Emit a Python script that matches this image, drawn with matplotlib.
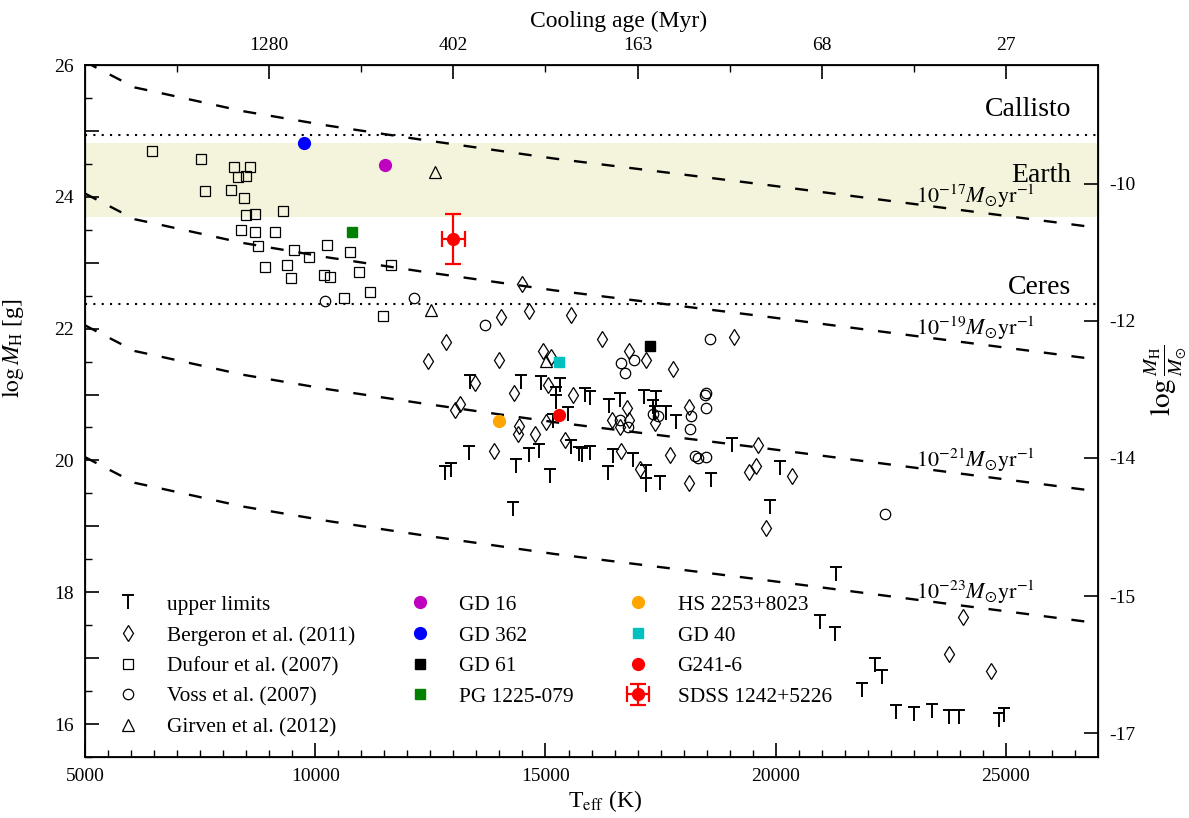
import numpy as np
import matplotlib
matplotlib.use('Agg')
import matplotlib.pyplot as plt
from matplotlib.path import Path

plt.rcParams['font.family'] = ['Liberation Serif', 'DejaVu Serif']
plt.rcParams['mathtext.fontset'] = 'stix'
plt.rcParams['xtick.direction'] = 'in'
plt.rcParams['ytick.direction'] = 'in'

# accretion-rate curves: 1e-17 Msun/yr curve, others are offset by the rate
line_teff = [5000, 5330, 6080, 6480, 8430, 10280, 12280, 15200, 19700, 27000]
line_logm = [26.05, 25.93, 25.66, 25.60, 25.30, 25.08, 24.87, 24.58, 24.19, 23.53]
rates = [-17, -19, -21, -23]

# upper limits
ul_teff = [13371, 14478, 14913, 15311, 15224, 15238, 15868, 15962, 16374, 16628,
           17134, 17409, 17337, 17373, 17626, 17844, 15492, 15166, 19052, 13335,
           12958, 12828, 14638, 14862, 14370, 15564, 15730, 15788, 15962, 16469,
           16903, 15108, 16360, 17192, 17178, 17482, 18603, 14297, 20086, 19869,
           21302, 20969, 21280, 22149, 22315, 21881, 22619, 23003, 23401, 23763,
           23980, 24841, 24950]
ul_logm = [21.19, 21.19, 21.17, 21.14, 21.01, 20.89, 20.99, 20.94, 20.82, 20.91,
           20.96, 20.94, 20.81, 20.72, 20.72, 20.59, 20.70, 20.60, 20.23, 20.11,
           19.85, 19.81, 20.08, 20.15, 19.91, 20.20, 20.10, 20.08, 20.11, 20.06,
           20.00, 19.77, 19.81, 19.82, 19.62, 19.66, 19.71, 19.27, 19.88, 19.29,
           18.28, 17.55, 17.36, 16.90, 16.71, 16.51, 16.18, 16.15, 16.20, 16.10,
           16.10, 16.06, 16.14]

# Bergeron et al. (2011)
berg_teff = [14500, 14044, 14652, 15549, 12850, 16230, 12452, 13986, 14949, 15130,
             16809, 17192, 17771, 19088, 13465, 14319, 15057, 15600, 13154, 13031,
             16780, 18119, 15021, 16447, 16613, 16816, 17373, 14420, 14406, 14782,
             15419, 13885, 16635, 17699, 17047, 18111, 19421, 19566, 19617, 20354,
             19782, 24066, 23755, 24667]
berg_logm = [22.68, 22.17, 22.26, 22.20, 21.80, 21.85, 21.51, 21.52, 21.66, 21.57,
             21.66, 21.53, 21.38, 21.88, 21.17, 21.03, 21.15, 21.00, 20.85, 20.76,
             20.80, 20.81, 20.59, 20.61, 20.51, 20.61, 20.57, 20.53, 20.40, 20.40,
             20.31, 20.14, 20.14, 20.08, 19.87, 19.66, 19.82, 19.91, 20.23, 19.77,
             18.98, 17.62, 17.07, 16.81]

# Dufour et al. (2007)
duf_teff = [6445, 7516, 8240, 8573, 8327, 8486, 7596, 8168, 8450, 8486,
            8689, 9297, 8378, 8689, 9130, 8747, 9536, 9861, 10245, 10759,
            8906, 9391, 9471, 10194, 10317, 10947, 11649, 10614, 11193, 11461]
duf_logm = [24.69, 24.58, 24.46, 24.45, 24.30, 24.32, 24.09, 24.11, 23.98, 23.72,
            23.74, 23.78, 23.50, 23.46, 23.47, 23.25, 23.20, 23.09, 23.27, 23.16,
            22.94, 22.96, 22.77, 22.82, 22.79, 22.86, 22.96, 22.47, 22.56, 22.19]

# Voss et al. (2007)
voss_teff = [10202, 12140, 13697, 16635, 16917, 16736, 18567, 18459, 18480, 18480,
             18169, 18133, 17337, 17438, 16613, 16794, 18242, 18314, 18495, 22365]
voss_logm = [22.42, 22.47, 22.05, 21.48, 21.53, 21.33, 21.84, 21.00, 21.03, 20.79,
             20.68, 20.48, 20.71, 20.68, 20.62, 20.51, 20.06, 20.03, 20.05, 19.19]

# Girven et al. (2012)
gir_teff = [12597, 12510, 15007]
gir_logm = [24.37, 22.28, 21.51]

# individual stars
star_names = ['GD 16', 'GD 362', 'GD 61', 'PG 1225-079', 'HS 2253+8023', 'GD 40', 'G241-6']
star_teff = [11504, 9745, 17279, 10802, 13993, 15296, 15296]
star_logm = [24.49, 24.81, 21.74, 23.46, 20.60, 21.49, 20.69]
star_marker = ['o', 'o', 's', 's', 'o', 's', 'o']
star_color = ['#c000c0', '#0000ff', '#000000', '#008000', '#ffa500', '#00c0c0', '#ff0000']

sdss_teff, sdss_logm = 13002, 23.36
sdss_teff_err, sdss_logm_err = 250, 0.38

# reference bodies
callisto = 24.94
ceres = 22.38
earth_band = (23.70, 24.82)

# top axis: cooling ages
age_teff = [9000, 13000, 17000, 21000, 25000]
age_labels = ['1280', '402', '163', '68', '27']
age_minor = [7000, 11000, 15000, 19000, 23000]

# right axis
right_pos = [24.20, 22.12, 20.04, 17.94, 15.86]
right_labels = ['-10', '-12', '-14', '-15', '-17']

fig = plt.figure(figsize=(11.89, 8.18), dpi=100)
ax = fig.add_axes([0.0715, 0.0746, 0.852, 0.8459])

ax.axhspan(earth_band[0], earth_band[1], color='#f4f4dc', zorder=0, lw=0)
ax.axhline(callisto, color='k', ls=(0, (1, 3)), lw=1.5, zorder=1)
ax.axhline(ceres, color='k', ls=(0, (1, 3)), lw=1.5, zorder=1)

for r in rates:
    ax.plot(line_teff, np.array(line_logm) + (r + 17), color='k', lw=1.7,
            dashes=(5.5, 6.3), zorder=1)
    ax.text(23050, 24.0 + (r + 17) - 0.1, r'$10^{%d}M_{\odot}{\rm yr}^{-1}$' % r,
            fontsize=16, ha='left', va='baseline')

ax.text(26420, 25.33, 'Callisto', fontsize=20, ha='right', va='center')
ax.text(26420, 24.33, 'Earth', fontsize=20, ha='right', va='center')
ax.text(26420, 22.62, 'Ceres', fontsize=20, ha='right', va='center')

tmark = Path([(-0.42, 0.5), (0.42, 0.5), (0, 0.5), (0, -0.5)],
             [Path.MOVETO, Path.LINETO, Path.MOVETO, Path.LINETO])

h = []
h.append(ax.plot(ul_teff, ul_logm, ls='none', marker=tmark, ms=10.5, mec='k', mew=1.4,
                 label='upper limits')[0])
h.append(ax.plot(berg_teff, berg_logm, ls='none', marker='d', ms=7.8, mfc='none', mec='k',
                 mew=0.9, label='Bergeron et al. (2011)')[0])
h.append(ax.plot(duf_teff, duf_logm, ls='none', marker='s', ms=7.5, mfc='none', mec='k',
                 mew=0.9, label='Dufour et al. (2007)')[0])
h.append(ax.plot(voss_teff, voss_logm, ls='none', marker='o', ms=7.5, mfc='none', mec='k',
                 mew=0.9, label='Voss et al. (2007)')[0])
h.append(ax.plot(gir_teff, gir_logm, ls='none', marker='^', ms=8, mfc='none', mec='k',
                 mew=0.9, label='Girven et al. (2012)')[0])
for name, t, m, mk, c in zip(star_names, star_teff, star_logm, star_marker, star_color):
    h.append(ax.plot(t, m, ls='none', marker=mk, ms=8.5 if mk == 'o' else 7.5,
                     mfc=c, mec=c, label=name, zorder=3)[0])
eb = ax.errorbar(sdss_teff, sdss_logm, xerr=sdss_teff_err, yerr=sdss_logm_err,
                 fmt='o', color='#ff0000', ms=8.5, capsize=6, elinewidth=1.6,
                 capthick=1.6, label='SDSS 1242+5226', zorder=3)
h.append(eb)

ax.legend(handles=h, ncol=3, frameon=False, fontsize=15.4, loc='upper left',
          bbox_to_anchor=(0.002, 0.262), labelspacing=0.5, columnspacing=2.0,
          handlelength=2.0, handletextpad=0.85)

ax.set_xlim(5000, 27000)
ax.set_ylim(15.5, 26)
ax.set_xticks([5000, 10000, 15000, 20000, 25000])
ax.set_xticks(np.arange(5500, 27000, 500), minor=True)
ax.set_yticks(np.arange(15.5, 26.01, 0.5), minor=True)
ax.set_yticks([16, 17, 18, 19, 20, 21, 22, 23, 24, 25, 26])
ax.set_yticklabels(['16', '', '18', '', '20', '', '22', '', '24', '', '26'])
ax.tick_params(which='major', length=10, width=1.2, labelsize=14, top=False, right=False, pad=8)
ax.tick_params(which='minor', length=5, width=1.0, top=False, right=False)
ax.set_xlabel(r'T$_{\rm eff}$ (K)', fontsize=17, labelpad=4)
ax.xaxis.set_label_coords(0.513, -0.045)
ax.set_ylabel(r'$\log M_{\rm H}$ [g]', fontsize=17, labelpad=6)
ax.yaxis.set_label_coords(-0.058, 0.59)
for s in ax.spines.values():
    s.set_linewidth(1.3)

top = ax.twiny()
top.set_xlim(ax.get_xlim())
top.set_xticks(age_teff)
top.set_xticklabels(age_labels)
top.set_xticks(age_minor, minor=True)
top.tick_params(which='major', length=10, width=1.2, labelsize=14, pad=8)
top.tick_params(which='minor', length=5, width=1.0)
top.set_xlabel('Cooling age (Myr)', fontsize=17, labelpad=8)
top.xaxis.set_label_coords(0.527, 1.055)

right = ax.twinx()
right.set_ylim(ax.get_ylim())
right.set_yticks(right_pos)
right.set_yticklabels(right_labels)
right.tick_params(which='major', length=10, width=1.2, labelsize=14, pad=8)
right.set_ylabel(r'$\log\frac{M_{\rm H}}{M_{\odot}}$', fontsize=21, labelpad=6)
right.yaxis.set_label_coords(1.044, 0.545)

fig.savefig('out.png', dpi=100)
